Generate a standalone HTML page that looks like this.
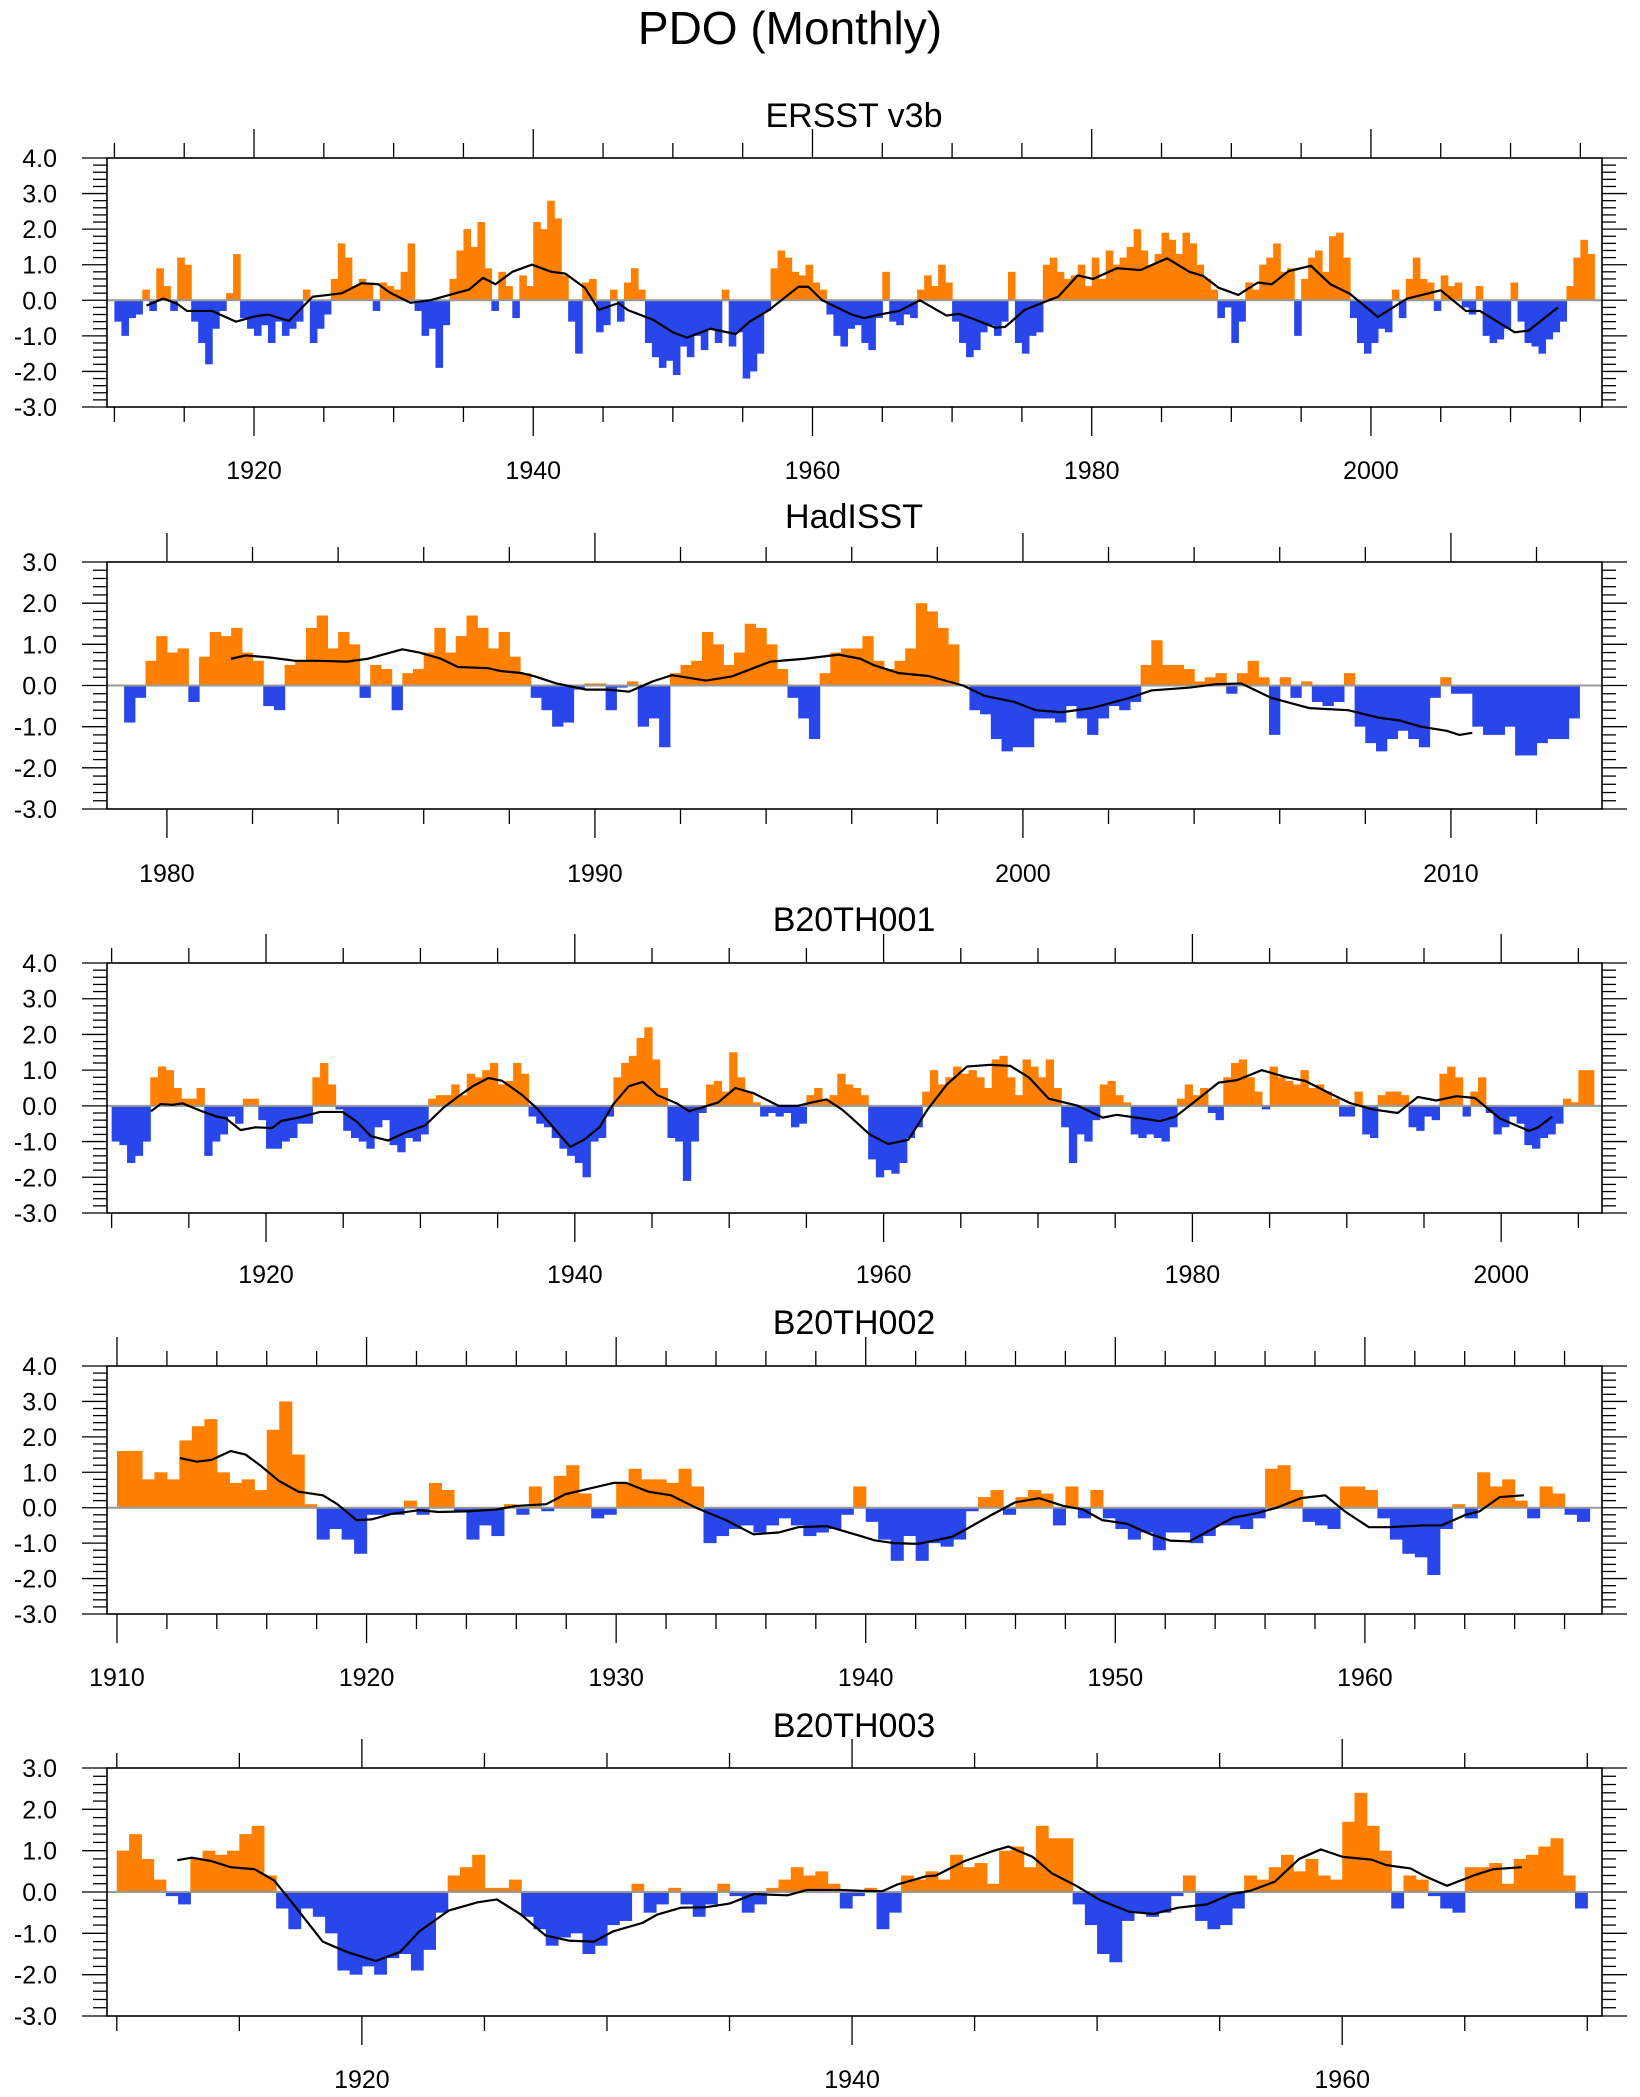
<!DOCTYPE html>
<html><head><meta charset="utf-8"><title>PDO (Monthly)</title>
<style>
html,body{margin:0;padding:0;background:#fff;}
svg{display:block;font-family:"Liberation Sans",sans-serif;}
</style></head>
<body>
<svg id="chart" width="1640" height="2097" viewBox="0 0 1640 2097" xmlns="http://www.w3.org/2000/svg">
<rect x="0" y="0" width="1640" height="2097" fill="#fff"/>
<text x="790" y="44" font-size="46" text-anchor="middle">PDO (Monthly)</text>
</svg>
<script>
// ---------- Panel 1: ERSST v3b (half-year steps from 1910.0) ----------
const p1Values = [
-0.6,-1.0,-0.5,-0.4,0.3,-0.3,0.9,0.4,-0.3,1.2,1.0,-0.6,-1.2,-1.8,-0.8,-0.3,0.2,1.3,-0.5,-0.8,
-1.0,-0.7,-1.2,-0.6,-1.0,-0.8,-0.6,0.3,-1.2,-0.8,-0.4,0.6,1.6,1.2,0.4,0.6,0.5,-0.3,0.5,0.4,
0.3,0.8,1.6,-0.3,-1.0,-0.8,-1.9,-0.7,0.6,1.4,2.0,1.5,2.2,0.9,-0.3,0.8,0.4,-0.5,0.7,0.4,
2.2,2.0,2.8,2.3,0.7,-0.6,-1.5,0.5,0.6,-0.9,-0.7,0.3,-0.6,0.5,0.9,0.3,-1.2,-1.6,-1.9,-1.7,
-2.1,-1.3,-1.6,-1.0,-1.4,-0.8,-1.2,0.3,-1.3,-0.9,-2.2,-2.0,-1.5,-0.3,0.9,1.4,1.2,0.8,0.7,1.0,
0.5,0.3,-0.4,-1.0,-1.3,-0.8,-0.7,-1.2,-1.4,-0.5,0.8,-0.6,-0.7,-0.4,-0.5,0.3,0.7,0.4,1.0,0.5,
-0.6,-1.2,-1.6,-1.4,-0.9,-0.7,-1.0,-0.6,0.8,-1.2,-1.5,-1.0,-0.9,1.0,1.2,0.8,0.6,0.7,1.0,0.4,
1.2,0.6,1.4,1.0,1.2,1.5,2.0,1.4,1.0,1.3,1.9,1.7,1.3,1.9,1.6,1.0,0.6,0.3,-0.5,-0.2,
-1.2,-0.6,0.5,0.3,1.0,1.2,1.6,0.8,0.9,-1.0,0.6,1.2,1.4,0.8,1.8,1.9,1.2,-0.5,-1.2,-1.5,
-1.2,-0.8,-0.9,0.3,-0.5,0.6,1.2,0.6,0.5,-0.3,0.7,0.4,0.5,-0.2,-0.4,0.4,-1.0,-1.2,-1.1,-0.8,
0.5,-0.6,-1.2,-1.3,-1.5,-1.1,-0.9,-0.6,0.4,1.2,1.7,1.3];
const p1LineYears = [1912.3,1913.5,1914.5,1915.2,1917.0,1918.7,1920.1,1921.0,1922.5,1924.2,1925.3,1926.3,1927.7,1928.9,1929.8,1931.2,1932.6,1934.0,1935.4,1936.4,1937.3,1938.5,1939.9,1941.3,1942.3,1943.7,1944.7,1946.1,1946.8,1948.6,1950.0,1951.0,1952.7,1954.5,1955.5,1956.9,1959.0,1959.7,1960.7,1962.8,1963.7,1964.8,1966.2,1967.7,1969.6,1970.5,1971.7,1973.1,1973.8,1975.2,1976.6,1977.6,1979.0,1980.1,1981.8,1983.5,1985.4,1987.0,1988.0,1989.1,1990.5,1991.9,1992.9,1994.1,1995.7,1997.1,1998.5,2000.5,2002.6,2005.0,2006.8,2007.8,2010.3,2011.3,2013.4];
const p1LineValues = [-0.15,0.05,-0.1,-0.3,-0.3,-0.6,-0.45,-0.4,-0.58,0.1,0.15,0.2,0.48,0.45,0.2,-0.07,0.0,0.15,0.3,0.63,0.45,0.8,1.0,0.8,0.75,0.35,-0.27,-0.08,-0.28,-0.55,-0.9,-1.05,-0.8,-0.95,-0.6,-0.27,0.38,0.38,0.0,-0.4,-0.5,-0.4,-0.3,0.0,-0.43,-0.38,-0.55,-0.77,-0.75,-0.27,-0.05,0.1,0.7,0.6,0.9,0.85,1.18,0.8,0.68,0.35,0.15,0.5,0.45,0.82,0.97,0.45,0.18,-0.47,0.05,0.28,-0.3,-0.3,-0.9,-0.85,-0.2];

// ---------- Panel 2: HadISST (quarter-year steps from 1979.0) ----------
const p2Values = [
-0.9,-0.3,0.6,1.2, 0.8,0.9,-0.4,0.7, 1.3,1.2,1.4,0.8, 0.6,-0.5,-0.6,0.5, 0.6,1.4,1.7,0.9,
1.3,1.0,-0.3,0.5, 0.4,-0.6,0.3,0.4, 0.8,1.4,0.8,1.2, 1.7,1.4,0.9,1.3, 0.7,0.3,-0.3,-0.6,
-1.0,-0.9,-0.1,0.05, 0.05,-0.6,-0.05,0.1, -1.0,-0.8,-1.5,0.3, 0.5,0.6,1.3,1.0, 0.5,0.8,1.5,1.4,
1.0,0.4,-0.3,-0.8, -1.3,0.3,0.8,0.9, 0.9,1.2,0.6,0.4, 0.6,0.9,2.0,1.8, 1.4,1.0,0.0,-0.6,
-0.7,-1.3,-1.6,-1.5, -1.5,-0.8,-0.8,-0.9, -0.5,-0.8,-1.2,-0.8, -0.5,-0.6,-0.4,0.5, 1.1,0.5,0.5,0.4,
0.1,0.2,0.3,-0.2, 0.3,0.6,0.2,-1.2, 0.2,-0.3,0.1,-0.4, -0.5,-0.4,0.3,-1.0, -1.4,-1.6,-1.3,-1.1,
-1.3,-1.5,-0.3,0.2, -0.2,-0.2,-1.0,-1.2, -1.2,-1.0,-1.7,-1.7, -1.4,-1.3,-1.3,-0.8];
const p2LineYears = [1981.5,1981.84,1982.4,1983.0,1983.5,1984.2,1984.7,1985.5,1985.9,1986.4,1986.8,1987.5,1987.8,1988.3,1988.6,1989.1,1989.8,1990.3,1990.8,1991.35,1991.8,1992.6,1993.2,1994.1,1994.9,1995.7,1996.2,1996.5,1997.1,1997.8,1998.6,1999.1,1999.8,2000.3,2000.9,2001.6,2002.5,2003.0,2003.9,2004.5,2005.1,2005.8,2006.7,2007.6,2008.3,2008.8,2009.3,2009.9,2010.2,2010.5];
const p2LineValues = [0.65,0.73,0.68,0.6,0.6,0.58,0.65,0.88,0.8,0.65,0.45,0.42,0.35,0.3,0.22,0.05,-0.1,-0.1,-0.15,0.1,0.25,0.12,0.22,0.58,0.65,0.75,0.65,0.5,0.3,0.23,0.0,-0.25,-0.4,-0.6,-0.65,-0.55,-0.3,-0.12,-0.05,0.03,0.05,-0.3,-0.55,-0.6,-0.78,-0.85,-1.0,-1.1,-1.2,-1.15];

// ---------- Panel 3: B20TH001 (half-year steps from 1910.0) ----------
const p3Values = [
-1.0,-1.1,-1.6,-1.4,-1.0,0.8,1.1,1.0,0.5,0.2,0.2,0.5,-1.4,-1.0,-0.8,-0.3,-0.5,0.2,0.2,-0.4,
-1.2,-1.2,-1.0,-0.9,-0.5,-0.5,0.8,1.2,0.6,-0.1,-0.7,-0.9,-1.0,-1.2,-0.6,-0.4,-1.1,-1.3,-0.9,-1.0,
-0.8,0.2,0.3,0.3,0.6,0.3,0.9,0.8,1.0,1.2,0.6,0.7,1.2,0.9,-0.3,-0.5,-0.6,-0.9,-1.2,-1.4,
-1.6,-2.0,-1.0,-0.9,-0.3,0.8,1.2,1.4,1.9,2.2,1.3,0.5,-0.9,-1.0,-2.1,-1.0,-0.2,0.6,0.7,0.4,
1.5,0.8,0.4,0.1,-0.3,-0.2,-0.3,-0.2,-0.6,-0.5,0.3,0.5,0.2,0.3,0.9,0.6,0.5,0.3,-1.5,-2.0,
-1.8,-1.9,-1.6,-0.9,-0.6,0.4,1.0,0.6,0.8,1.1,0.9,1.0,0.8,0.5,1.3,1.4,0.8,0.3,1.3,1.1,
0.8,1.3,0.5,-0.6,-1.6,-0.8,-1.0,-0.4,0.6,0.7,0.3,0.1,-0.8,-0.9,-0.8,-0.9,-1.0,-0.6,0.2,0.6,
0.3,0.5,-0.2,-0.4,0.8,1.2,1.3,0.8,0.4,-0.1,1.1,0.8,0.7,0.6,1.0,0.5,0.6,0.4,0.2,-0.3,
-0.3,0.4,-0.8,-0.9,0.3,0.4,0.4,0.3,-0.6,-0.7,-0.3,-0.4,0.9,1.1,0.8,-0.3,0.4,0.8,-0.2,-0.8,
-0.6,-0.3,-0.5,-1.1,-1.2,-0.9,-0.8,-0.5,0.2,0.1,1.0,1.0];
const p3LineYears = [1912.55,1913.17,1913.96,1914.6,1915.84,1916.8,1917.4,1918.35,1919.3,1920.4,1921.0,1922.1,1923.5,1924.95,1925.9,1926.8,1927.9,1929.0,1930.3,1931.5,1932.5,1933.4,1934.4,1935.3,1936.6,1937.5,1938.4,1939.7,1940.6,1941.6,1942.5,1943.5,1944.4,1945.35,1946.6,1947.4,1948.2,1949.3,1950.4,1951.6,1953.2,1954.45,1955.4,1956.3,1957.3,1957.83,1959.1,1960.3,1961.6,1962.85,1964.1,1965.4,1966.9,1968.2,1969.4,1970.7,1972.6,1974.2,1975.1,1976.7,1977.9,1978.9,1980.1,1981.7,1982.9,1984.5,1986.1,1987.3,1988.9,1990.2,1991.7,1993.3,1994.6,1995.8,1997.1,1998.3,1999.9,2001.8,2002.4,2003.3];
const p3LineValues = [-0.15,0.05,0.03,0.07,-0.15,-0.3,-0.35,-0.68,-0.6,-0.62,-0.42,-0.33,-0.17,-0.17,-0.45,-0.85,-0.97,-0.75,-0.55,-0.05,0.28,0.55,0.78,0.7,0.3,-0.05,-0.5,-1.15,-0.95,-0.6,0.05,0.55,0.67,0.3,0.07,-0.15,-0.05,0.1,0.5,0.35,0.0,0.0,0.1,0.18,-0.1,-0.3,-0.8,-1.07,-0.95,-0.1,0.6,1.1,1.15,1.12,0.8,0.2,0.0,-0.33,-0.25,-0.35,-0.43,-0.3,0.1,0.65,0.72,1.0,0.8,0.7,0.35,0.08,-0.1,-0.2,0.25,0.15,0.27,0.22,-0.35,-0.7,-0.6,-0.3];

// ---------- Panel 4: B20TH002 (half-year steps from 1910.0) ----------
const p4Values = [
1.6,1.6,0.8,1.0,0.8,1.9,2.3,2.5,1.0,0.7,0.8,0.5,2.2,3.0,1.5,0.1,-0.9,-0.6,-0.9,-1.3,
-0.2,-0.2,-0.2,0.2,-0.2,0.7,0.5,-0.1,-0.9,-0.5,-0.8,0.1,-0.2,0.6,-0.1,0.9,1.2,0.4,-0.3,-0.2,
0.7,1.1,0.8,0.8,0.7,1.1,0.6,-1.0,-0.8,-0.6,-0.5,-0.7,-0.5,-0.3,-0.5,-0.8,-0.7,-0.6,-0.2,0.6,
-0.4,-0.9,-1.5,-0.8,-1.5,-1.0,-1.1,-0.9,-0.1,0.3,0.5,-0.2,0.3,0.5,0.4,-0.5,0.6,-0.3,0.5,-0.3,
-0.6,-0.9,-0.7,-1.2,-0.7,-0.7,-1.0,-0.8,-0.5,-0.5,-0.6,-0.3,1.1,1.2,0.5,-0.4,-0.5,-0.6,0.6,0.6,
0.5,-0.3,-0.9,-1.3,-1.4,-1.9,-0.6,0.1,-0.3,1.0,0.6,0.8,0.2,-0.3,0.6,0.4,-0.2,-0.4];
const p4LineYears = [1912.52,1913.2,1913.79,1914.56,1915.15,1915.73,1916.5,1917.28,1918.25,1918.83,1919.6,1920.2,1920.97,1922.1,1922.9,1924.1,1925.2,1926.0,1927.2,1927.96,1929.1,1929.9,1930.4,1931.3,1932.2,1933.2,1934.4,1935.5,1936.5,1937.3,1938.45,1939.8,1940.35,1941.13,1942.1,1943.46,1944.04,1945.0,1945.98,1946.95,1947.92,1948.7,1949.48,1950.45,1951.42,1952.2,1952.97,1953.75,1954.72,1955.69,1956.47,1957.44,1958.41,1959.19,1960.16,1960.93,1962.3,1963.07,1964.04,1964.6,1965.4,1966.37];
const p4LineValues = [1.4,1.3,1.35,1.6,1.5,1.2,0.75,0.45,0.35,0.1,-0.35,-0.33,-0.18,-0.07,-0.12,-0.1,-0.05,0.05,0.1,0.38,0.57,0.7,0.7,0.45,0.35,0.0,-0.35,-0.75,-0.7,-0.55,-0.52,-0.8,-0.92,-1.0,-1.02,-0.82,-0.6,-0.22,0.15,0.27,0.05,-0.05,-0.35,-0.45,-0.75,-0.93,-0.95,-0.65,-0.28,-0.15,0.0,0.27,0.35,-0.1,-0.55,-0.55,-0.5,-0.5,-0.2,-0.1,0.3,0.35];

// ---------- Panel 5: B20TH003 (half-year steps from 1910.0) ----------
const p5Values = [
1.0,1.4,0.8,0.3,-0.1,-0.3,0.8,1.0,0.9,1.0,1.4,1.6,0.4,-0.4,-0.9,-0.4,-0.6,-1.0,-1.9,-2.0,
-1.8,-2.0,-1.6,-1.5,-1.9,-1.4,-0.5,0.4,0.6,0.9,0.1,0.1,0.3,-0.6,-0.9,-1.3,-1.1,-1.0,-1.5,-1.3,
-0.8,-0.7,0.2,-0.5,-0.3,0.1,-0.3,-0.6,-0.3,0.2,-0.1,-0.5,-0.3,0.1,0.3,0.6,0.4,0.5,0.2,-0.4,
-0.1,0.1,-0.9,-0.5,0.4,0.3,0.5,0.3,0.9,0.6,0.7,0.2,1.0,1.1,0.6,1.6,1.3,1.3,-0.3,-0.8,
-1.5,-1.7,-0.7,-0.5,-0.6,-0.5,-0.1,0.4,-0.7,-0.9,-0.8,-0.4,0.4,0.3,0.6,0.9,0.5,0.8,0.4,0.3,
1.7,2.4,1.6,1.0,-0.4,0.4,0.3,-0.1,-0.4,-0.5,0.6,0.6,0.7,0.2,0.8,0.9,1.1,1.3,0.4,-0.4];
const p5LineYears = [1912.47,1913.06,1913.85,1914.64,1915.63,1916.42,1917.21,1918.4,1919.39,1920.57,1921.56,1922.35,1923.54,1924.72,1925.51,1926.5,1927.49,1928.48,1929.47,1930.26,1931.44,1932.04,1933.02,1934.01,1935.0,1935.99,1937.37,1938.16,1939.55,1940.3,1941.24,1941.84,1943.02,1943.42,1944.6,1945.79,1946.38,1947.37,1948.16,1949.15,1950.14,1951.32,1952.31,1953.3,1954.49,1955.47,1956.26,1957.25,1958.24,1959.13,1960.02,1961.21,1961.8,1962.79,1963.38,1964.27,1965.36,1966.15,1967.33];
const p5LineValues = [0.77,0.83,0.75,0.6,0.55,0.28,-0.3,-1.2,-1.45,-1.67,-1.45,-0.95,-0.45,-0.25,-0.18,-0.55,-1.05,-1.18,-1.2,-0.95,-0.75,-0.55,-0.38,-0.37,-0.28,-0.05,-0.08,0.05,0.05,0.03,0.02,0.18,0.38,0.4,0.75,1.0,1.1,0.85,0.45,0.15,-0.2,-0.48,-0.53,-0.38,-0.3,-0.05,0.03,0.25,0.8,1.03,0.85,0.78,0.65,0.57,0.38,0.15,0.4,0.55,0.6];

const panelTitles = ['ERSST v3b','HadISST','B20TH001','B20TH002','B20TH003'];

const NS = 'http://www.w3.org/2000/svg';
const svg = document.getElementById('chart');
const ORANGE = '#FF8000', BLUE = '#2846EA';

function mk(tag, attrs, parent) {
  const e = document.createElementNS(NS, tag);
  for (const k in attrs) e.setAttribute(k, attrs[k]);
  (parent || svg).appendChild(e);
  return e;
}

const panels = [
  {key:'ersst', title:panelTitles[0], top:158, bottom:407, ymin:-3, ymax:4, yr0:1909.47, yr1:2016.55, start:1910, step:0.5, vals:p1Values, ly:p1LineYears, lv:p1LineValues, major:20, minor:5, titleY:127, labelY:479},
  {key:'hadisst', title:panelTitles[1], top:562, bottom:809, ymin:-3, ymax:3, yr0:1978.6, yr1:2013.53, start:1979, step:0.25, vals:p2Values, ly:p2LineYears, lv:p2LineValues, major:10, minor:2, titleY:528, labelY:882},
  {key:'b20th001', title:panelTitles[2], top:963, bottom:1213, ymin:-3, ymax:4, yr0:1909.7, yr1:2006.53, start:1910, step:0.5, vals:p3Values, ly:p3LineYears, lv:p3LineValues, major:20, minor:5, titleY:931, labelY:1283},
  {key:'b20th002', title:panelTitles[3], top:1366, bottom:1614, ymin:-3, ymax:4, yr0:1909.6, yr1:1969.5, start:1910, step:0.5, vals:p4Values, ly:p4LineYears, lv:p4LineValues, major:10, minor:2, titleY:1334, labelY:1686},
  {key:'b20th003', title:panelTitles[4], top:1768, bottom:2016, ymin:-3, ymax:3, yr0:1909.6, yr1:1970.6, start:1910, step:0.5, vals:p5Values, ly:p5LineYears, lv:p5LineValues, major:20, minor:5, titleY:1737, labelY:2088}
];
const LEFT = 107, RIGHT = 1602;

panels.forEach(function(p) {
  const X = function(yr){ return LEFT + (yr - p.yr0) / (p.yr1 - p.yr0) * (RIGHT - LEFT); };
  const Y = function(v){ return p.bottom - (v - p.ymin) / (p.ymax - p.ymin) * (p.bottom - p.top); };
  const g = mk('g', {});
  
  

  const t = mk('text', {x: 854, y: p.titleY, 'font-size': 34, 'text-anchor': 'middle'}, g);
  
  
  t.textContent = p.title;

  const bars = mk('g', {}, g);
  
  
  const y0 = Y(0);
  p.vals.forEach(function(v, i) {
    const t0 = p.start + i * p.step;
    const xa = X(t0), xb = X(t0 + p.step);
    const yv = Y(v);
    const r = mk('rect', {x: xa.toFixed(2), y: Math.min(yv, y0).toFixed(2), width: (xb - xa + 0.6).toFixed(2), height: Math.abs(yv - y0).toFixed(2), fill: v >= 0 ? ORANGE : BLUE}, bars);
    
    
  });

  const zl = mk('line', {x1: LEFT, x2: RIGHT, y1: y0, y2: y0, stroke: '#999', 'stroke-width': 2}, g);
  
  

  let d = '';
  p.ly.forEach(function(yr, i) { d += (i ? 'L' : 'M') + X(yr).toFixed(2) + ',' + Y(p.lv[i]).toFixed(2); });
  const sl = mk('path', {d: d, fill: 'none', stroke: '#000', 'stroke-width': 2.2, 'stroke-linejoin': 'round'}, g);
  
  

  const fr = mk('rect', {x: LEFT, y: p.top, width: RIGHT - LEFT, height: p.bottom - p.top, fill: 'none', stroke: '#000', 'stroke-width': 1.6}, g);
  
  

  const yax = mk('g', {stroke: '#000', 'stroke-width': 1.3}, g);
  
  
  for (let k = Math.round(p.ymin * 5); k <= Math.round(p.ymax * 5); k++) {
    const v = k / 5, yy = Y(v);
    const isMaj = k % 5 === 0;
    const len = isMaj ? 25 : 14;
    mk('line', {x1: LEFT - len, x2: LEFT, y1: yy, y2: yy}, yax);
    mk('line', {x1: RIGHT, x2: RIGHT + len, y1: yy, y2: yy}, yax);
    if (isMaj) {
      const lb = mk('text', {x: 57, y: yy + 9, 'font-size': 25, 'text-anchor': 'end', stroke: 'none', fill: '#000'}, g);
      
      
      lb.textContent = v.toFixed(1);
    }
  }

  const xax = mk('g', {stroke: '#000', 'stroke-width': 1.3}, g);
  
  
  for (let yr = Math.ceil(p.yr0 / p.minor) * p.minor; yr <= p.yr1; yr += p.minor) {
    const xx = X(yr);
    const isMaj = yr % p.major === 0;
    const len = isMaj ? 29 : 15;
    mk('line', {x1: xx, x2: xx, y1: p.top - len, y2: p.top}, xax);
    mk('line', {x1: xx, x2: xx, y1: p.bottom, y2: p.bottom + len}, xax);
    if (isMaj) {
      const lb = mk('text', {x: xx, y: p.labelY, 'font-size': 25, 'text-anchor': 'middle', stroke: 'none', fill: '#000'}, g);
      
      
      lb.textContent = String(yr);
    }
  }
});
</script>
</body></html>
